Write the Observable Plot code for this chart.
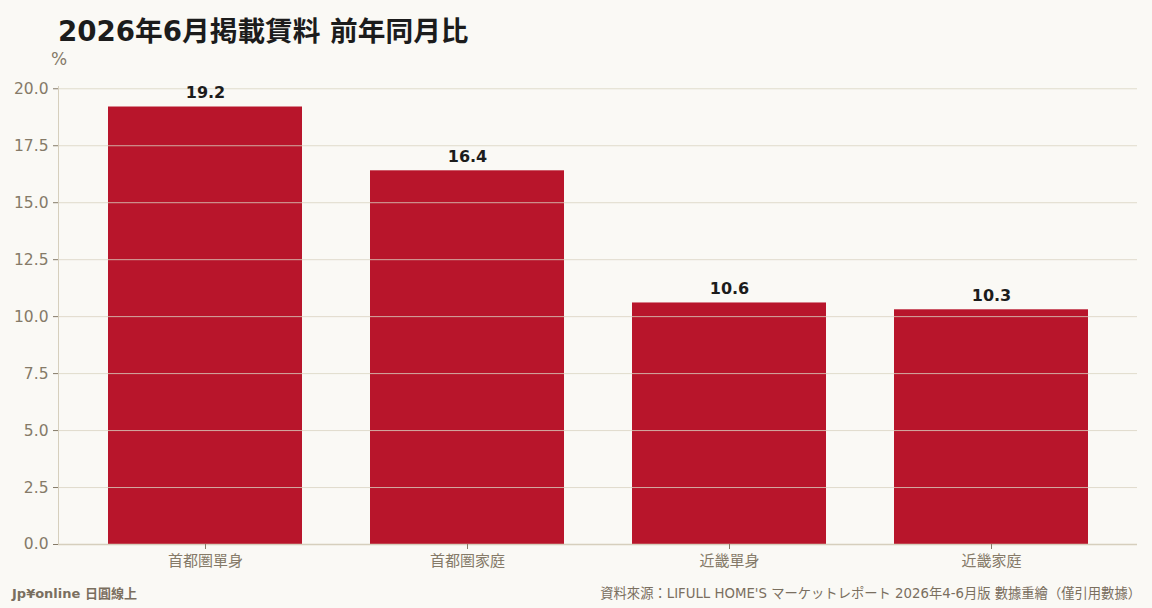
<!DOCTYPE html>
<html>
<head>
<meta charset="utf-8">
<script src="https://cdn.jsdelivr.net/npm/d3@7"></script>
<script src="https://cdn.jsdelivr.net/npm/@observablehq/plot@0.6"></script>
<style>
  html, body { margin: 0; padding: 0; background: #faf9f5; }
  body { width: 1152px; height: 608px; position: relative; overflow: hidden; font-family: "DejaVu Sans", "Noto Sans CJK JP", sans-serif; }
  #title { position: absolute; left: 58px; top: 9px; font-size: 27.7px; font-weight: bold; color: #1c1c1c; font-family: "DejaVu Sans", "Noto Sans CJK TC", sans-serif; }
  #unit { position: absolute; left: 51px; top: 49px; font-size: 17px; color: #857a68; }
  #chart { position: absolute; left: 0; top: 45px; }
  #brand { position: absolute; left: 12px; bottom: 6px; font-size: 13px; font-weight: bold; color: #7a6f5f; font-family: "DejaVu Sans", "Noto Sans CJK TC", sans-serif; }
  #source { position: absolute; right: 11px; bottom: 6px; font-size: 13.3px; color: #7a6f5f; font-family: "DejaVu Sans", "Noto Sans CJK JP", sans-serif; }
</style>
</head>
<body>
<div id="title"></div>
<div id="unit"></div>
<div id="chart"></div>
<div id="brand"></div>
<div id="source"></div>
<script>
const titleText = "2026年6月掲載賃料 前年同月比";
const unitLabel = "%";
const categories = ["首都圏單身", "首都圏家庭", "近畿單身", "近畿家庭"];
const values = [19.2, 16.4, 10.6, 10.3];
const yTicks = [0, 2.5, 5, 7.5, 10, 12.5, 15, 17.5, 20];
const brandText = "Jp¥online 日圓線上";
const sourceText = "資料來源：LIFULL HOME'S マーケットレポート 2026年4-6月版 數據重繪（僅引用數據）";

document.getElementById("title").textContent = titleText;
document.getElementById("unit").textContent = unitLabel;
document.getElementById("brand").textContent = brandText;
document.getElementById("source").textContent = sourceText;

const data = categories.map((c, i) => ({category: c, value: values[i]}));

const chart = Plot.plot({
  width: 1152,
  height: 535,
  marginLeft: 58,
  marginRight: 15,
  marginTop: 41,
  marginBottom: 36,
  style: {background: "transparent", fontFamily: "DejaVu Sans, Noto Sans CJK JP, sans-serif", fontSize: "15px", color: "#857a68"},
  x: {domain: categories, paddingInner: 0.26, paddingOuter: 0.186, label: null},
  y: {domain: [0, 20.1], label: null},
  marks: [
    Plot.barY(data, {x: "category", y: "value", fill: "#b8152b"}),
    Plot.gridY(yTicks, {stroke: "#d9d3c2", strokeOpacity: 0.8}),
    Plot.frame({anchor: "left", stroke: "#d6cfbd", strokeOpacity: 1}),
    Plot.ruleY([0], {stroke: "#d6cfbd", strokeWidth: 1.5}),
    Plot.axisY({ticks: yTicks, tickFormat: d3.format(".1f"), tickSize: 5, tickPadding: 5, stroke: "#857a68", fill: "#857a68", label: null, fontSize: 15.5}),
    Plot.axisX({tickSize: 5, tickPadding: 6, stroke: "#857a68", fill: "#857a68", label: null, fontSize: 15}),
    Plot.text(data, {x: "category", y: "value", text: d => d.value.toFixed(1), dy: -14, fill: "#1c1c1c", fontWeight: "bold", fontSize: 16})
  ]
});
document.getElementById("chart").appendChild(chart);
</script>
</body>
</html>
